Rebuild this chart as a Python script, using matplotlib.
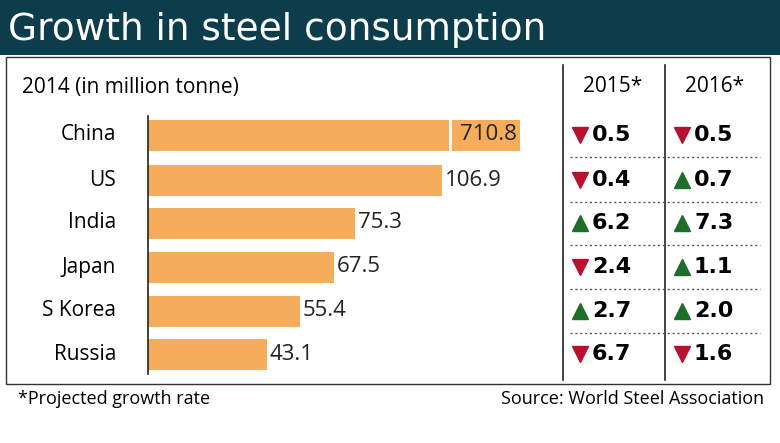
import matplotlib.pyplot as plt
from matplotlib.patches import Rectangle
from matplotlib.lines import Line2D

countries = ["China", "US", "India", "Japan", "S Korea", "Russia"]
consumption_2014 = [710.8, 106.9, 75.3, 67.5, 55.4, 43.1]
growth_2015 = [-0.5, -0.4, 6.2, -2.4, 2.7, -6.7]
growth_2016 = [-0.5, 0.7, 7.3, 1.1, 2.0, -1.6]

W, H = 780, 443
FONT = ["Liberation Sans Narrow", "Open Sans", "DejaVu Sans"]
plt.rcParams['font.family'] = FONT

fig = plt.figure(figsize=(W / 100, H / 100), dpi=100)
fig.patch.set_facecolor('white')


def px(x, y):
    return x / W, 1 - y / H


# header band
fig.patches.append(Rectangle(px(0, 55), 1, 55 / H, transform=fig.transFigure,
                             facecolor='#0d3d4b', edgecolor='none'))
fig.text(*px(8, 30), "Growth in steel consumption", color='white', fontsize=27,
         va='center', ha='left', family=["Liberation Sans Narrow", "DejaVu Sans"])

# body frame
fig.patches.append(Rectangle(px(6, 384), (770 - 6) / W, (384 - 57) / H, transform=fig.transFigure,
                             facecolor='none', edgecolor='#333333', lw=1))

fig.text(*px(22, 87), "2014 (in million tonne)", fontsize=15, va='center', ha='left')
fig.text(*px(613, 87), "2015*", fontsize=15, va='center', ha='center')
fig.text(*px(715, 87), "2016*", fontsize=15, va='center', ha='center')
for xv in (563, 665):
    fig.lines.append(Line2D([xv / W] * 2, [1 - 65 / H, 1 - 380 / H],
                            transform=fig.transFigure, color='#222222', lw=1.2))

row_y = [135, 180, 223, 267, 311, 354]
for y in row_y[:-1]:
    yy = y + 22
    fig.lines.append(Line2D([570 / W, 760 / W], [1 - yy / H] * 2, transform=fig.transFigure,
                            color='#555555', lw=1, ls=(0, (1.5, 2))))

# bar axes
ax_l, ax_r, ax_t, ax_b = 148, 560, 113, 376
ax = fig.add_axes([ax_l / W, 1 - ax_b / H, (ax_r - ax_l) / W, (ax_b - ax_t) / H])
ax.set_xlim(0, (ax_r - ax_l) / 2.75)
ax.set_ylim(ax_b, ax_t)
cap = (520 - ax_l) / 2.75
shown = [min(v, cap) for v in consumption_2014]
ax.barh(row_y, shown, height=31, color='#f5ad5b', edgecolor='none')
for y, v, s in zip(row_y, consumption_2014, shown):
    if v > cap:
        ax.plot([(450 - ax_l) / 2.75] * 2, [y - 16, y + 16], color='white', lw=2)
        ax.text(s - 1, y, f"{v:.1f}", ha='right', va='center', fontsize=16, color='#222222')
    else:
        ax.text(s + 1, y, f"{v:.1f}", ha='left', va='center', fontsize=16, color='#222222')
ax.set_axis_off()
fig.lines.append(Line2D([ax_l / W] * 2, [1 - 116 / H, 1 - 374 / H], transform=fig.transFigure,
                        color='#222222', lw=1.2))

for y, c in zip(row_y, countries):
    fig.text(*px(116, y), c, fontsize=15, ha='right', va='center')


def growth_cell(xc, y, g):
    up = g >= 0
    mk = '^' if up else 'v'
    col = '#1e6e2a' if up else '#b8102e'
    fig.lines.append(Line2D([(xc - 20) / W], [1 - y / H], transform=fig.transFigure,
                            marker=mk, color=col, markersize=11, ls='none'))
    fig.text(*px(xc - 8, y), f"{abs(g):.1f}", fontsize=16, fontweight='bold',
             ha='left', va='center', family=["DejaVu Sans"])


for y, g15, g16 in zip(row_y, growth_2015, growth_2016):
    growth_cell(600, y, g15)
    growth_cell(702, y, g16)

fig.text(*px(18, 399), "*Projected growth rate", fontsize=13, va='center', ha='left')
fig.text(*px(764, 399), "Source: World Steel Association", fontsize=13, va='center', ha='right')

fig.savefig("out.png", dpi=100)
